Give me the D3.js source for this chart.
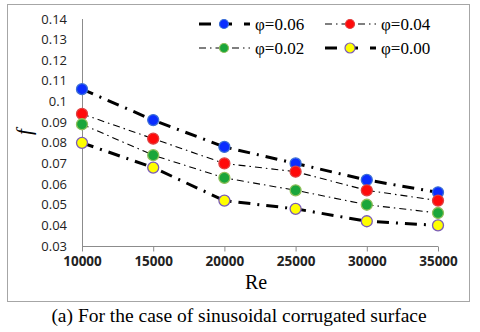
<!DOCTYPE html>
<html><head><meta charset="utf-8">
<script src="https://cdn.jsdelivr.net/npm/d3@7"></script>
<style>body{margin:0;background:#fff}</style>
</head><body>
<svg id="c" width="480" height="332"></svg>
<script>
const categories = [10000, 15000, 20000, 25000, 30000, 35000];
const seriesNames = ["φ=0.06", "φ=0.04", "φ=0.02", "φ=0.00"];
const phi006 = [0.106, 0.091, 0.078, 0.070, 0.062, 0.056];
const phi004 = [0.094, 0.082, 0.070, 0.066, 0.057, 0.052];
const phi002 = [0.089, 0.074, 0.063, 0.057, 0.050, 0.046];
const phi000 = [0.080, 0.068, 0.052, 0.048, 0.042, 0.040];
const yTicks = [0.03,0.04,0.05,0.06,0.07,0.08,0.09,0.1,0.11,0.12,0.13,0.14];
const xTitle = "Re", yTitle = "f";
const caption = "(a) For the case of sinusoidal corrugated surface";

const styles = [
  {fill:"#0a2dff", stroke:"#3b6fd6", w:3, dash:"12,7,2,7"},
  {fill:"#ff0a0a", stroke:"#e04040", w:1.1, dash:"7,4,1.5,4"},
  {fill:"#1aa63a", stroke:"#8fbf5a", w:1.1, dash:"7,4,1.5,4"},
  {fill:"#ffff00", stroke:"#7a5cb8", w:3, dash:"12,7,2,7"}
];
const series = [phi006, phi004, phi002, phi000];

const svg = d3.select("#c");
svg.append("rect").attr("x",7.5).attr("y",4.5).attr("width",462).attr("height",297)
  .attr("fill","#fff").attr("stroke","#a6a6a6").attr("stroke-width",1);

const x = d3.scaleLinear().domain([10000,35000]).range([82,438]);
const y = d3.scaleLinear().domain([0.03,0.14]).range([246,19]);

svg.append("line").attr("x1",82.5).attr("x2",82.5).attr("y1",y(0.14)).attr("y2",250)
  .attr("stroke","#8c8c8c").attr("stroke-width",1);
svg.append("g").selectAll("text").data(yTicks).join("text")
  .attr("x",67).attr("y",d=>y(d)).attr("dy","0.35em").attr("text-anchor","end")
  .attr("font-family","'Open Sans', 'Liberation Sans', sans-serif").attr("font-size",13)
  .attr("fill","#222").text(d=>d3.format("")(+d.toFixed(2)));

const xa = d3.axisBottom(x).tickValues(categories).tickSize(5).tickFormat(d=>d);
const gx = svg.append("g").attr("transform","translate(0,246.5)").call(xa);
gx.select(".domain").attr("stroke","#8c8c8c").attr("d","M82,0H438");
gx.selectAll(".tick line").attr("stroke","#8c8c8c");
gx.selectAll(".tick text").attr("y",15).attr("dy","0.35em")
  .attr("font-family","'Open Sans', 'Liberation Sans', sans-serif").attr("font-weight","bold")
  .attr("font-size",13.5).attr("fill","#222");

svg.append("text").attr("x",256).attr("y",289).attr("text-anchor","middle")
  .attr("font-family","'Liberation Serif', serif").attr("font-size",20).text(xTitle);
svg.append("text").attr("transform","translate(31,132) rotate(-90)").attr("text-anchor","middle")
  .attr("font-family","'Liberation Serif', serif").attr("font-style","italic").attr("font-size",21).text(yTitle);

const line = d3.line().x((d,i)=>x(categories[i])).y(d=>y(d));
series.forEach((s,k)=>{
  svg.append("path").datum(s).attr("d",line).attr("fill","none")
    .attr("stroke","#000").attr("stroke-width",styles[k].w).attr("stroke-dasharray",styles[k].dash);
});
series.forEach((s,k)=>{
  svg.append("g").selectAll("circle").data(s).join("circle")
    .attr("cx",(d,i)=>x(categories[i])).attr("cy",d=>y(d)).attr("r",5.5)
    .attr("fill",styles[k].fill).attr("stroke",styles[k].stroke).attr("stroke-width",1.3);
});

const legPos = [[199,24],[325,24],[199,48],[325,48]];
seriesNames.forEach((n,k)=>{
  const [lx,ly] = legPos[k];
  const g = svg.append("g");
  g.append("line").attr("x1",lx).attr("x2",lx+51).attr("y1",ly).attr("y2",ly)
    .attr("stroke","#000").attr("stroke-width",styles[k].w)
    .attr("stroke-dasharray", styles[k].w>2 ? "12,9,12" : "7,4,1.5,4");
  g.append("circle").attr("cx",lx+25).attr("cy",ly).attr("r",k===3?5:4.5)
    .attr("fill",styles[k].fill).attr("stroke",styles[k].stroke).attr("stroke-width",1.2);
  g.append("text").attr("x",lx+56).attr("y",ly).attr("dy","0.35em")
    .attr("font-family","'Liberation Serif', serif").attr("font-size",17).text(n);
});

svg.append("text").attr("x",239).attr("y",322).attr("text-anchor","middle")
  .attr("font-family","'Liberation Serif', serif").attr("font-size",19.5).text(caption);
</script>
</body></html>
